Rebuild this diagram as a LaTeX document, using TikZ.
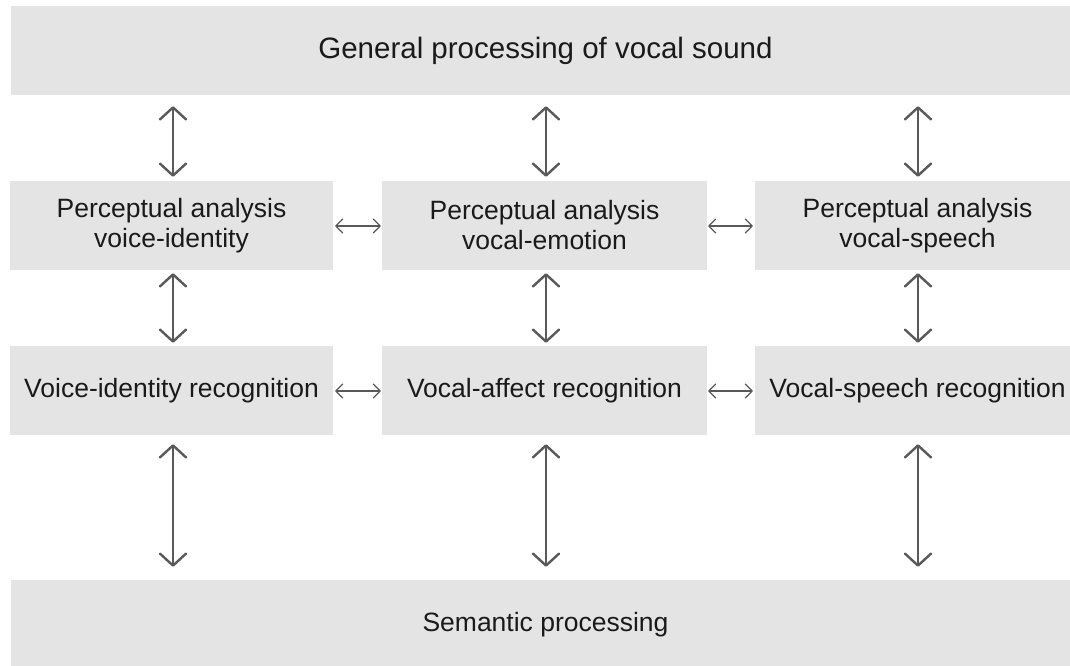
\documentclass[tikz,border=0pt]{standalone}
\usepackage{fontspec}
\setmainfont{Liberation Sans}
\usetikzlibrary{arrows.meta}
\definecolor{boxgray}{HTML}{E4E4E4}
\definecolor{arrowgray}{HTML}{595959}
\definecolor{txt}{HTML}{1A1A1A}
\tikzset{
  box/.style={fill=boxgray, draw=none, minimum height=89pt, inner sep=0pt,
    align=center, text=txt, font=\fontsize{26.5pt}{30pt}\selectfont},
  bigarrow/.style={draw=arrowgray, line width=2.4pt, line cap=round,
    {Straight Barb[length=12pt,width=26pt,line cap=round,line join=round]}-{Straight Barb[length=12pt,width=26pt,line cap=round,line join=round]}},
  smallarrow/.style={draw=arrowgray, line width=1.2pt,
    {Straight Barb[length=7pt,width=14pt,line cap=round,line join=round]}-{Straight Barb[length=7pt,width=14pt,line cap=round,line join=round]}}
}
\begin{document}
\begin{tikzpicture}[x=1pt,y=-1pt]
\clip (0,0) rectangle (1070,665);
\fill[white] (0,0) rectangle (1070,665);
\node[box, minimum width=1069pt, font=\fontsize{29.5pt}{33pt}\selectfont] (gen) at (545.5,50.5) {General processing of vocal sound};
\node[box, minimum width=323pt] (pa1) at (171.5,225.5) {Perceptual analysis\\voice-identity};
\node[box, minimum width=325pt] (pa2) at (544.5,225.5) {Perceptual analysis\\vocal-emotion};
\node[box, minimum width=325pt] (pa3) at (917.5,225.5) {Perceptual analysis\\vocal-speech};
\node[box, minimum width=323pt] (r1) at (171.5,390.5) {Voice-identity recognition};
\node[box, minimum width=325pt] (r2) at (544.5,390.5) {Vocal-affect recognition};
\node[box, minimum width=325pt] (r3) at (917.5,390.5) {Vocal-speech recognition};
\node[box, minimum width=1069pt] (sem) at (545.5,624.5) {Semantic processing};
% vertical arrows
\foreach \n/\dx in {1/1.5,2/1.5,3/0.5}{
  \draw[bigarrow, shorten <=11pt, shorten >=4pt] ([xshift=\dx pt]gen.south -| pa\n.north) -- ([xshift=\dx pt]pa\n.north);
  \draw[bigarrow, shorten <=3pt, shorten >=3pt] ([xshift=\dx pt]pa\n.south) -- ([xshift=\dx pt]r\n.north);
  \draw[bigarrow, shorten <=9pt, shorten >=13pt] ([xshift=\dx pt]r\n.south) -- ([xshift=\dx pt]sem.north -| r\n.south);
}
% horizontal arrows
\draw[smallarrow, shorten <=2pt, shorten >=1pt] ([yshift=-0.5pt]pa1.east) -- ([yshift=-0.5pt]pa2.west);
\draw[smallarrow, shorten <=1pt, shorten >=2pt] ([yshift=-0.5pt]pa2.east) -- ([yshift=-0.5pt]pa3.west);
\draw[smallarrow, shorten <=2pt, shorten >=1pt] ([yshift=-0.5pt]r1.east) -- ([yshift=-0.5pt]r2.west);
\draw[smallarrow, shorten <=1pt, shorten >=2pt] ([yshift=-0.5pt]r2.east) -- ([yshift=-0.5pt]r3.west);
\end{tikzpicture}
\end{document}
